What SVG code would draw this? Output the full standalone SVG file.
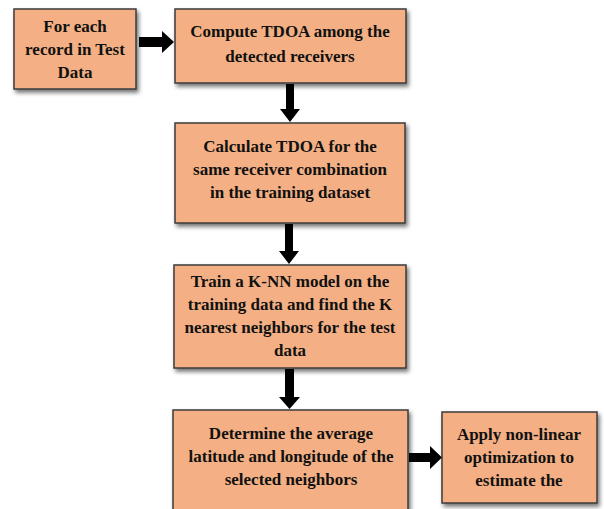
<svg xmlns="http://www.w3.org/2000/svg" width="604" height="509" viewBox="0 0 604 509">
<defs>
<filter id="sh" x="-10%" y="-10%" width="130%" height="140%">
<feDropShadow dx="2" dy="3" stdDeviation="2" flood-color="#000" flood-opacity="0.55"/>
</filter>
<style>
.box{fill:#F4B084;stroke:#3b3b3b;stroke-width:1.5;filter:url(#sh)}
.t{font-family:"Liberation Serif","Times New Roman",serif;font-weight:bold;font-size:17px;fill:#111;text-anchor:middle}
.arr{fill:#000}
</style>
</defs>
<rect width="604" height="509" fill="#fff"/>
<g id="n1"><rect class="box" x="14" y="9" width="122" height="80"/>
<text class="t" x="75" y="32">For each</text><text class="t" x="75" y="55">record in Test</text><text class="t" x="75" y="78">Data</text></g>
<g id="n2"><rect class="box" x="175" y="9" width="231" height="74"/>
<text class="t" x="290" y="37">Compute TDOA among the</text><text class="t" x="290" y="62">detected receivers</text></g>
<g id="n3"><rect class="box" x="175" y="123" width="230" height="100"/>
<text class="t" x="290" y="152">Calculate TDOA for the</text><text class="t" x="290" y="175">same receiver combination</text><text class="t" x="290" y="198">in the training dataset</text></g>
<g id="n4"><rect class="box" x="174" y="265" width="232" height="103"/>
<text class="t" x="290" y="287">Train a K-NN model on the</text><text class="t" x="290" y="310">training data and find the K</text><text class="t" x="290" y="333">nearest neighbors for the test</text><text class="t" x="290" y="356">data</text></g>
<g id="n5"><rect class="box" x="173" y="410" width="235" height="105"/>
<text class="t" x="291" y="439">Determine the average</text><text class="t" x="291" y="462">latitude and longitude of the</text><text class="t" x="291" y="485">selected neighbors</text></g>
<g id="n6"><rect class="box" x="442" y="412" width="155" height="91"/>
<text class="t" x="519" y="440">Apply non-linear</text><text class="t" x="519" y="463">optimization to</text><text class="t" x="519" y="486">estimate the</text></g>
<g id="connectors">
<path class="arr" d="M139 37 H162 V31 L174 42 L162 53 V47 H139 Z"/>
<path class="arr" d="M286 84 H294 V109 H300 L290 122 L280 109 H286 Z"/>
<path class="arr" d="M285 224 H293 V251 H299 L289 264 L279 251 H285 Z"/>
<path class="arr" d="M285 369 H294 V397 H300 L289.5 409 L279 397 H285 Z"/>
<path class="arr" d="M409 453 H430 V446 L442 457.5 L430 469 V462 H409 Z"/>
</g>
</svg>
